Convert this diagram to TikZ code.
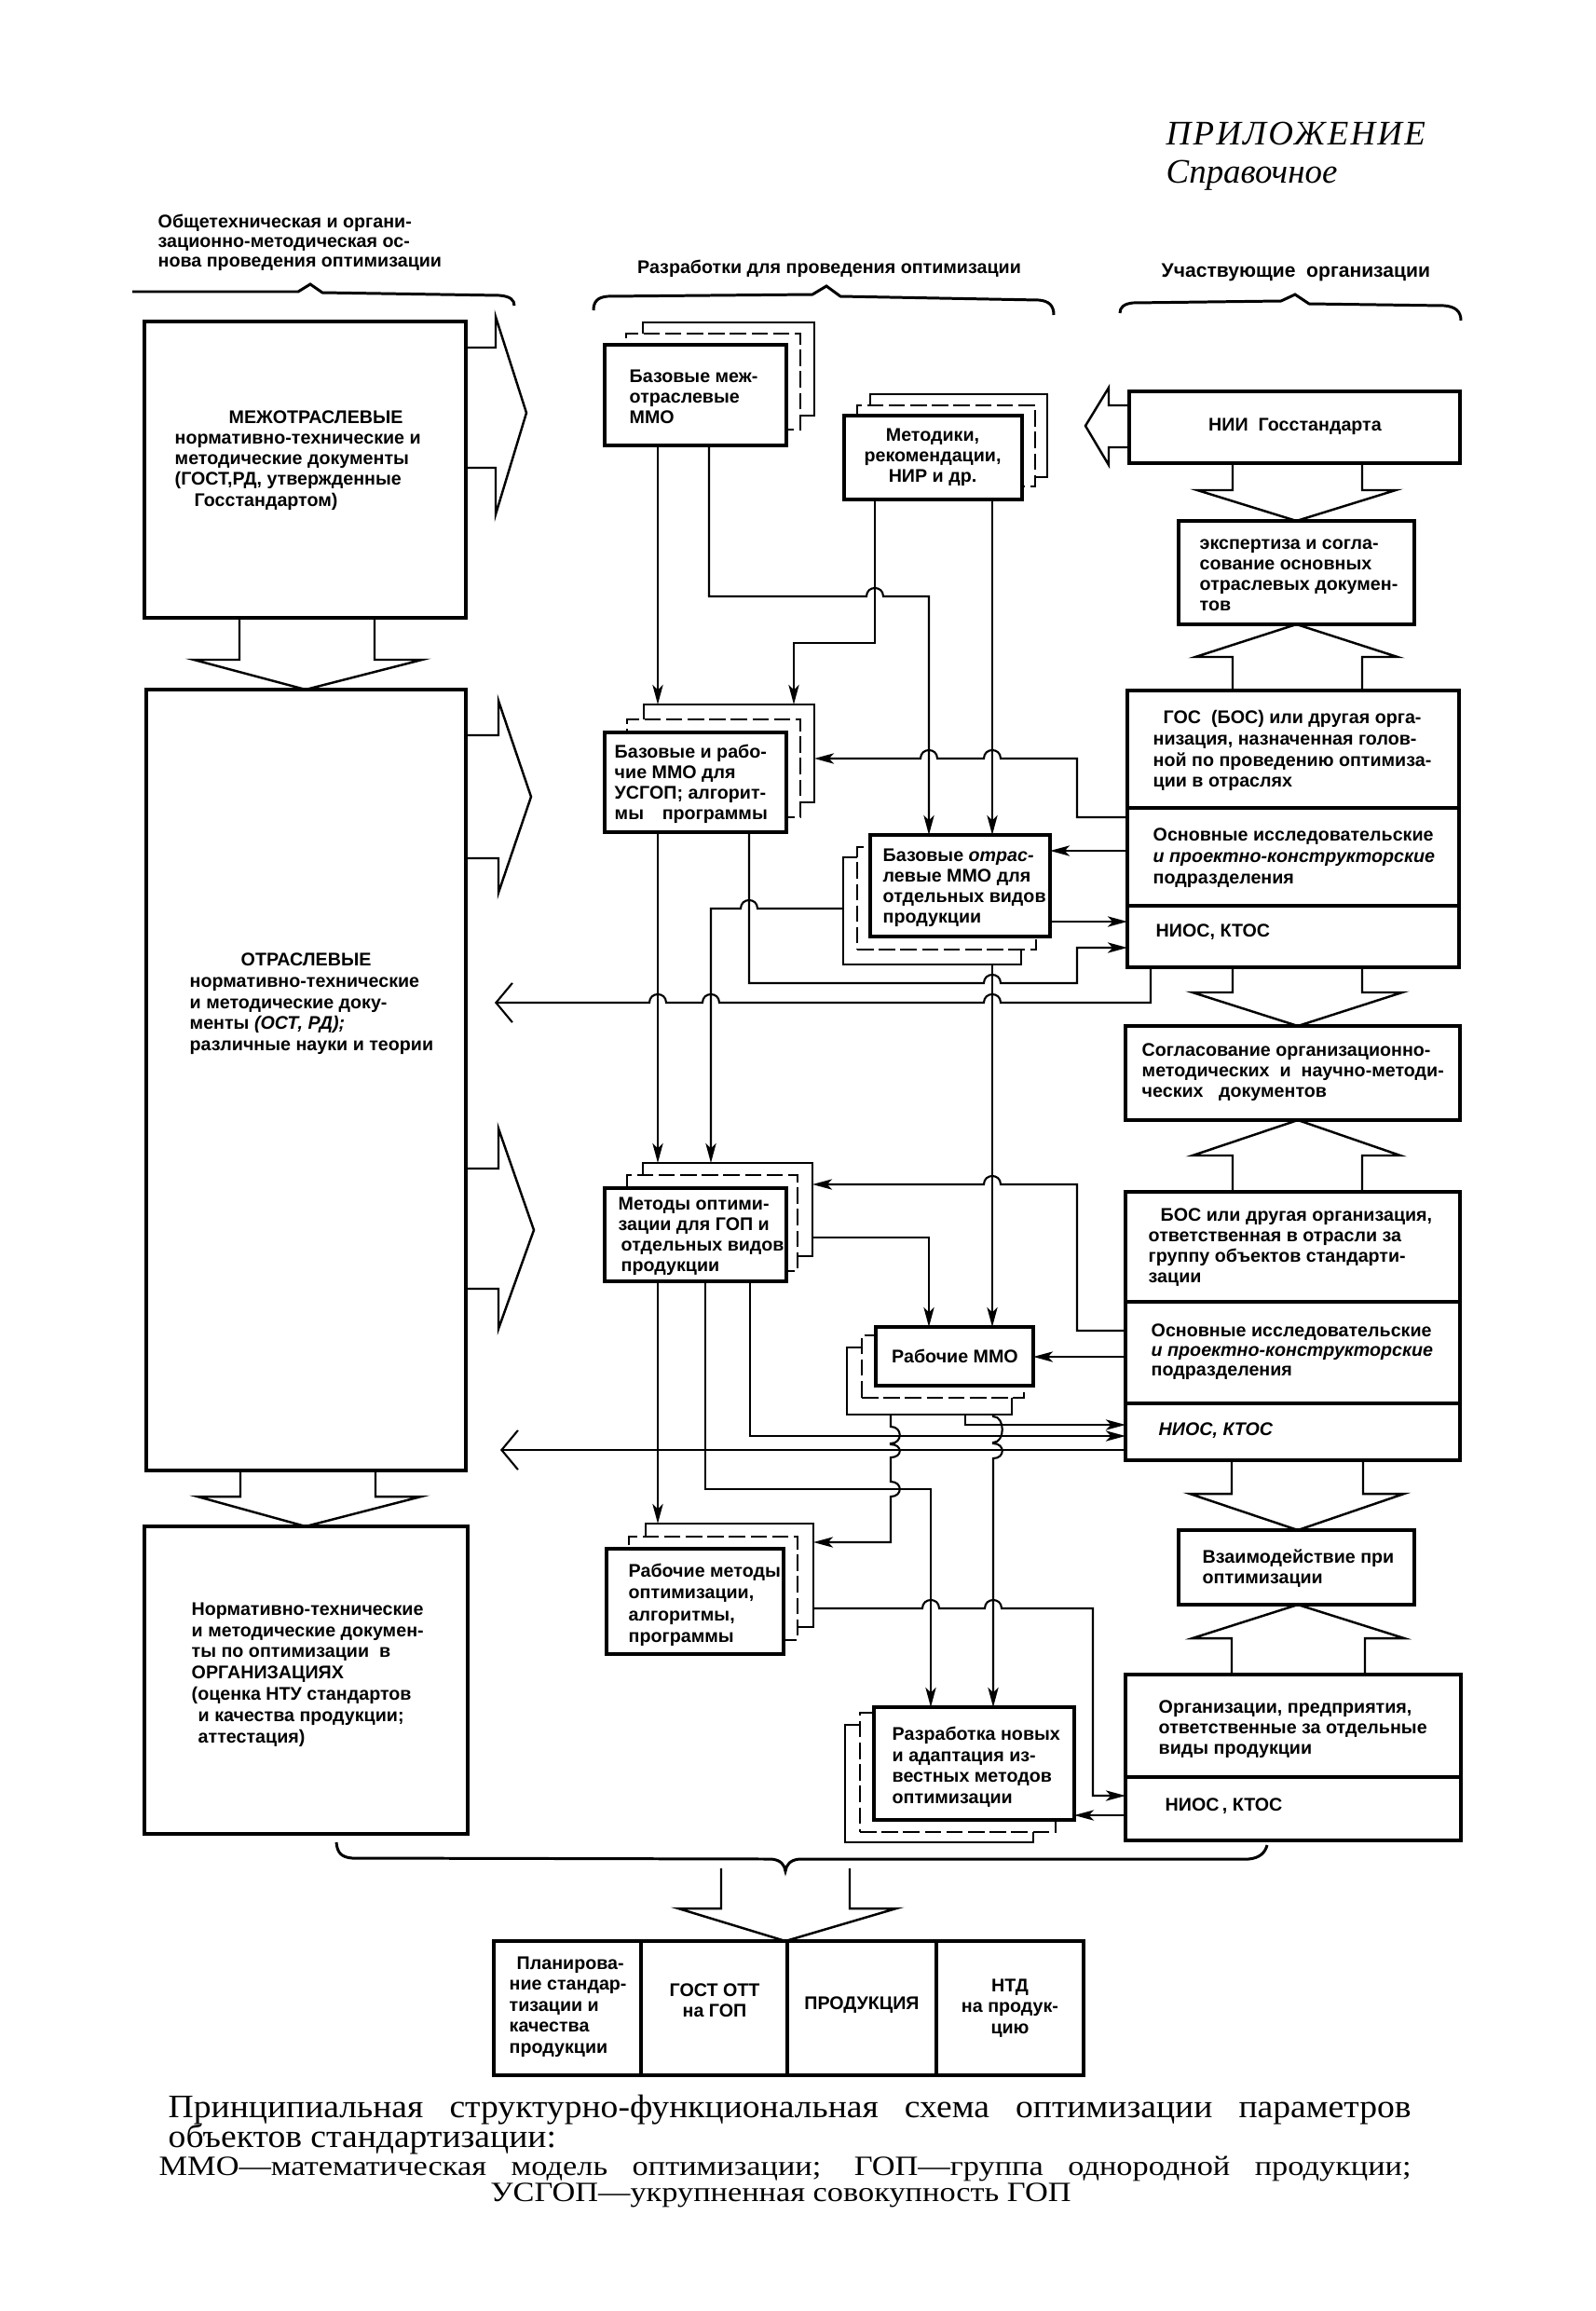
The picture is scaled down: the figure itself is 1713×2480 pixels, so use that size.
\documentclass[tikz,border=0pt]{standalone}
\usepackage{fontspec}
\setmainfont{Liberation Serif}
\newfontfamily\sansf{Liberation Sans}
\newfontfamily\capf{Liberation Serif}[FakeStretch=1.15]
\newfontfamily\capg{Liberation Serif}[FakeStretch=1.07]
\newfontfamily\prilf{Liberation Serif}[LetterSpace=6]
\usetikzlibrary{arrows.meta,calc}
\newcommand\boxfont{\sansf\bfseries\fontsize{5.6}{6.3}\selectfont}
\newcommand\BX[6]{%
 \pgfmathsetmacro\bxw{(#5-#3)/10}%
 \pgfmathsetmacro\bxh{(#6-#4)/10}%
 \node[#2, inner sep=0pt, outer sep=0pt, minimum width=\bxw mm, minimum height=\bxh mm, anchor=north west] (#1) at (#3,#4) {};}
\newcommand\HopR[2]{-- ({#1-9},#2) .. controls ({#1-9},{#2-12}) and ({#1+9},{#2-12}) .. ({#1+9},#2)}
\newcommand\HopL[2]{-- ({#1+9},#2) .. controls ({#1+9},{#2-12}) and ({#1-9},{#2-12}) .. ({#1-9},#2)}
\newcommand\SqD[3]{-- (#1,#2) .. controls ({#1+13},#2) and ({#1+13},#3) .. (#1,#3)}
\tikzset{
 mainb/.style={draw, line width=1.2pt, fill=white},
 copyb/.style={draw, line width=0.6pt, fill=white},
 dashb/.style={copyb, dash pattern=on 5pt off 1.6pt},
 bigb/.style={draw, line width=1.1pt},
 rb/.style={draw, line width=1pt},
 tb/.style={draw, line width=1.1pt},
 rdiv/.style={line width=1pt},
 blk/.style={line width=0.7pt, line join=miter},
 brc/.style={line width=0.85pt},
 conn/.style={line width=0.6pt},
 arr/.style={conn, -{Stealth[length=6pt,width=3.2pt,inset=1.5pt]}},
 barb/.style={conn, -{Straight Barb[length=5pt,width=12pt]}},
 txt/.style={font=\boxfont, align=left, inner sep=0pt, anchor=north west},
 txtc/.style={font=\boxfont, align=center, inner sep=0pt, anchor=center},
 txtw/.style={font=\boxfont, inner sep=0pt, anchor=west},
 capt/.style={inner sep=0pt, anchor=base west},
}
\begin{document}
\begin{tikzpicture}[x=0.1mm, y=-0.1mm]
\path[fill=white, use as bounding box] (0,0) rectangle (1713,2480);

% ---------- headers ----------
\node[anchor=west, inner sep=0pt, font=\prilf\itshape\fontsize{10.5}{12}\selectfont] (pril) at (1251,143) {ПРИЛОЖЕНИЕ};
\node[anchor=west, inner sep=0pt, font=\itshape\fontsize{10.5}{12}\selectfont] (sprav) at (1251,188) {Справочное};
\node[txt, font={\boxfont\fontsize{5.6}{6}\selectfont}] (h1) at (169,229) {Общетехническая и органи-\\зационно-методическая ос-\\нова проведения оптимизации};
\node[txtc] (h2) at (890,288) {Разработки для проведения оптимизации};
\node[txtw, font={\boxfont\fontsize{6}{7}\selectfont}] (h3) at (1246,292) {Участвующие\ \ организации};

% braces
\draw[brc] (142,313) -- (320,313) -- (333,305) -- (346,314) -- (536,317) .. controls (548,318) and (552,322) .. (552,328);
\draw[brc] (637,333) .. controls (637,324) and (641,319) .. (652,318) -- (872,316) -- (887,307) -- (902,318) -- (1115,322) .. controls (1126,323) and (1131,328) .. (1131,338);
\draw[brc] (1202,336) .. controls (1202,330) and (1206,326) .. (1216,325) -- (1375,323) -- (1390,316) -- (1405,326) -- (1550,328) .. controls (1562,329) and (1568,334) .. (1568,344);

% ---------- left column ----------
\BX{A}{bigb}{155}{345}{500}{663}
\node[txt] (tA) at (187,440) {\hspace*{5.8mm}МЕЖОТРАСЛЕВЫЕ\\нормативно-технические и\\методические документы\\(ГОСТ,РД, утвержденные\\\hspace*{2.1mm}Госстандартом)};
\BX{B}{bigb}{157}{740}{500}{1578}
\node[txt, font={\boxfont\fontsize{5.6}{6.5}\selectfont}] (tB) at (203,1022) {\hspace*{5.5mm}ОТРАСЛЕВЫЕ\\нормативно-технические\\и методические доку-\\менты \textit{(ОСТ, РД);}\\различные науки и теории};
\BX{C}{bigb}{155}{1638}{502}{1968}
\node[txt, font={\boxfont\fontsize{5.6}{6.5}\selectfont}] (tC) at (205,1719) {Нормативно-технические\\и методические докумен-\\ты по оптимизации\ \ в\\ОРГАНИЗАЦИЯХ\\(оценка НТУ стандартов\\\hspace*{0.7mm}и качества продукции;\\\hspace*{0.7mm}аттестация)};

\draw[blk] (A.east |- 0,373) -- (532,373) -- (532,340) -- (565,443) -- (532,552) -- (532,502) -- (A.east |- 0,502);
\draw[blk] (A.south -| 257,0) -- (257,708) -- (208,708) -- (B.north -| 328,0) -- (453,708) -- (402,708) -- (A.south -| 402,0);
\draw[blk] (B.east |- 0,789) -- (535,789) -- (535,752) -- (570,855) -- (535,958) -- (535,921) -- (B.east |- 0,921);
\draw[blk] (B.east |- 0,1254) -- (535,1254) -- (535,1211) -- (573,1320) -- (535,1426) -- (535,1383) -- (B.east |- 0,1383);
\draw[blk] (B.south -| 258,0) -- (258,1606) -- (212,1606) -- (C.north -| 328,0) -- (452,1606) -- (403,1606) -- (B.south -| 403,0);

% ---------- middle column: stacked boxes ----------
\BX{M1c2}{copyb}{690}{346}{874}{446}
\BX{M1c1}{dashb}{672}{358}{859}{461}
\BX{M1}{mainb}{649}{370}{844}{478}
\node[txt] (tM1) at (675,396) {Базовые меж-\\отраслевые\\ММО};

\BX{M3c2}{copyb}{934}{423}{1124}{512}
\BX{M3c1}{dashb}{920}{435}{1111}{522}
\BX{M3}{mainb}{906}{446}{1097}{536}
\node[txtc] (tM3) at (1001,491) {Методики,\\рекомендации,\\НИР и др.};

\BX{M2c2}{copyb}{691}{756}{874}{861}
\BX{M2c1}{dashb}{673}{772}{859}{877}
\BX{M2}{mainb}{649}{786}{844}{893}
\node[txt] (tM2) at (659,798) {Базовые и рабо-\\чие ММО для\\УСГОП; алгорит-\\мы\quad программы};

\BX{M4c2}{copyb}{905}{920}{1096}{1035}
\BX{M4c1}{dashb}{920}{909}{1112}{1019}
\BX{M4}{mainb}{934}{896}{1127}{1005}
\node[txt] (tM4) at (947,910) {Базовые \textit{отрас-}\\левые ММО для\\отдельных видов\\продукции};

\BX{M5c2}{copyb}{690}{1248}{872}{1348}
\BX{M5c1}{dashb}{673}{1261}{856}{1364}
\BX{M5}{mainb}{649}{1275}{844}{1375}
\node[txt] (tM5) at (663,1284) {Методы оптими-\\зации для ГОП и\\\hspace*{0.3mm}отдельных видов\\\hspace*{0.3mm}продукции};

\BX{M6c2}{copyb}{909}{1446}{1086}{1518}
\BX{M6c1}{dashb}{925}{1433}{1099}{1500}
\BX{M6}{mainb}{940}{1424}{1109}{1487}
\node[txtc] (tM6) at (1025,1455) {Рабочие ММО};

\BX{M7c2}{copyb}{693}{1635}{873}{1746}
\BX{M7c1}{dashb}{675}{1649}{856}{1760}
\BX{M7}{mainb}{651}{1662}{841}{1775}
\node[txt, font={\boxfont\fontsize{5.6}{6.7}\selectfont}] (tM7) at (674,1677) {Рабочие методы\\оптимизации,\\алгоритмы,\\программы};

\BX{M8c2}{copyb}{907}{1851}{1109}{1977}
\BX{M8c1}{dashb}{923}{1838}{1133}{1966}
\BX{M8}{mainb}{938}{1832}{1153}{1953}
\node[txt, font={\boxfont\fontsize{5.6}{6.5}\selectfont}] (tM8) at (957,1852) {Разработка новых\\и адаптация из-\\вестных методов\\оптимизации};

% ---------- right column ----------
\BX{NII}{rb}{1212}{420}{1567}{497}
\node[txtc] (tNII) at (1390,458) {НИИ\ \ Госстандарта};
\BX{E}{rb}{1265}{559}{1518}{670}
\node[txt] (tE) at (1287,578) {экспертиза и согла-\\сование основных\\отраслевых докумен-\\тов};
\BX{R1}{rb}{1210}{741}{1566}{1038}
\draw[rdiv] (R1.west |- 0,867) -- (R1.east |- 0,867);
\draw[rdiv] (R1.west |- 0,972) -- (R1.east |- 0,972);
\node[txt, font={\boxfont\fontsize{5.6}{6.45}\selectfont}] (tR1a) at (1237,762) {\hspace*{1.1mm}ГОС\ \ (БОС) или другая орга-\\низация, назначенная голов-\\ной по проведению оптимиза-\\ции в отраслях};
\node[txt, font={\boxfont\fontsize{5.6}{6.5}\selectfont}] (tR1b) at (1237,888) {Основные исследовательские\\\textit{и проектно-конструкторские}\\подразделения};
\node[txtw] (tR1c) at (1240,1000) {НИОС, КТОС};

\BX{S}{rb}{1208}{1101}{1567}{1202}
\node[txt] (tS) at (1225,1119) {Согласование организационно-\\методических\ \ и\ \ научно-методи-\\ческих\ \ \ документов};
\BX{R2}{rb}{1208}{1279}{1567}{1567}
\draw[rdiv] (R2.west |- 0,1397) -- (R2.east |- 0,1397);
\draw[rdiv] (R2.west |- 0,1506) -- (R2.east |- 0,1506);
\node[txt] (tR2a) at (1232,1296) {\hspace*{1.3mm}БОС или другая организация,\\ответственная в отрасли за\\группу объектов стандарти-\\зации};
\node[txt, font={\boxfont\fontsize{5.6}{6}\selectfont}] (tR2b) at (1235,1420) {Основные исследовательские\\\textit{и проектно-конструкторские}\\подразделения};
\node[txtw] (tR2c) at (1243,1535) {\textit{НИОС, КТОС}};

\BX{V}{rb}{1265}{1642}{1518}{1722}
\node[txt] (tV) at (1290,1662) {Взаимодействие при\\оптимизации};
\BX{R3}{rb}{1208}{1797}{1568}{1975}
\draw[rdiv] (R3.west |- 0,1907) -- (R3.east |- 0,1907);
\node[txt] (tR3a) at (1243,1824) {Организации, предприятия,\\ответственные за отдельные\\виды продукции};
\node[txtw] (tR3b) at (1250,1938) {НИОС\,, КТОС};

% block arrows right column
\draw[blk] (NII.west |- 0,435) -- (1190,435) -- (1190,416) -- (1165,457) -- (1190,499) -- (1190,480) -- (NII.west |- 0,480);
\draw[blk] (NII.south -| 1323,0) -- (1323,526) -- (1285,526) -- (E.north) -- (1498,526) -- (1462,526) -- (NII.south -| 1462,0);
\draw[blk] (R1.north -| 1323,0) -- (1323,705) -- (1283,705) -- (E.south) -- (1500,705) -- (1462,705) -- (R1.north -| 1462,0);
\draw[blk] (R1.south -| 1323,0) -- (1323,1065) -- (1280,1065) -- (S.north -| 1393,0) -- (1505,1065) -- (1462,1065) -- (R1.south -| 1462,0);
\draw[blk] (R2.north -| 1323,0) -- (1323,1240) -- (1280,1240) -- (S.south -| 1393,0) -- (1503,1240) -- (1462,1240) -- (R2.north -| 1462,0);
\draw[blk] (R2.south -| 1322,0) -- (1322,1603) -- (1277,1603) -- (V.north -| 1393,0) -- (1507,1603) -- (1463,1603) -- (R2.south -| 1463,0);
\draw[blk] (R3.north -| 1322,0) -- (1322,1758) -- (1280,1758) -- (V.south -| 1393,0) -- (1507,1758) -- (1465,1758) -- (R3.north -| 1465,0);

% ---------- connectors ----------
\coordinate (t1) at (531,1076);
\coordinate (t2) at (537,1556);
\draw[arr] (M1.south -| 706,0) -- (M2c2.north -| 706,0);
\draw[arr] (M1.south -| 761,0) -- (761,640) \HopR{939}{640} -- (997,640) -- (M4.north -| 997,0);
\draw[arr] (M3.south -| 939,0) -- (939,690) -- (852,690) -- (M2c2.north -| 852,0);
\draw[arr] (M3.south -| 1065,0) -- (M4.north -| 1065,0);
\draw[arr] (R1.west |- 0,877) -- (1156,877) -- (1156,814) \HopL{1065}{814} \HopL{997}{814} -- (M2c2.east |- 0,814);
\draw[arr] (R1.west |- 0,913) -- (M4.east |- 0,913);
\draw[arr] (M4.east |- 0,989) -- (R1.west |- 0,989);
\draw[arr] (M2.south -| 804,0) -- (804,1055) \HopR{1065}{1055} -- (1156,1055) -- (1156,1017) -- (R1.west |- 0,1017);
\draw[arr] (M4c2.west |- 0,975) \HopL{804}{975} -- (763,975) -- (M5c2.north -| 763,0);
\draw[arr] (M2.south -| 706,0) -- (M5c2.north -| 706,0);
\draw[arr] (M4c2.south -| 1065,0) -- (M6.north -| 1065,0);
\draw[barb] (R1.south -| 1235,0) -- (1235,1076) \HopL{1065}{1076} \HopL{763}{1076} \HopL{706}{1076} -- (t1);
\draw[arr] (R2.west |- 0,1428) -- (1156,1428) -- (1156,1271) \HopL{1065}{1271} -- (M5c2.east |- 0,1271);
\draw[arr] (M5c2.east |- 0,1328) -- (997,1328) -- (M6.north -| 997,0);
\draw[arr] (R2.west |- 0,1456) -- (M6.east |- 0,1456);
\draw[arr] (M6c2.south -| 1036,0) -- (1036,1529) -- (R2.west |- 0,1529);
\draw[arr] (M5.south -| 805,0) -- (805,1541) -- (R2.west |- 0,1541);
\draw[barb] (R2.west |- 0,1556) -- (t2);
\draw[arr] (M5.south -| 757,0) -- (757,1598) -- (999,1598) -- (M8.north -| 999,0);
\draw[arr] (M5.south -| 706,0) -- (M7c2.north -| 706,0);
\draw[arr] (M6c2.south -| 956,0) \SqD{956}{1531}{1549} \SqD{956}{1550}{1564} \SqD{956}{1590}{1606} -- (956,1655) -- (M7c2.east |- 0,1655);
\draw[arr] (M6c2.south -| 1066,0) \SqD{1066}{1520}{1548} \SqD{1066}{1549}{1565} -- (M8.north -| 1066,0);
\draw[arr] (M7c2.east |- 0,1726) \HopR{999}{1726} \HopR{1066}{1726} -- (1173,1726) -- (1173,1927) -- (R3.west |- 0,1927);
\draw[arr] (R3.west |- 0,1948) -- (M8.east |- 0,1948);

% ---------- bottom ----------
\draw[brc] (361,1977) .. controls (362,1988) and (366,1993) .. (378,1994) -- (828,1995) .. controls (838,1996) and (842,2001) .. (843,2008) .. controls (844,2001) and (848,1996) .. (858,1995) -- (1340,1995) .. controls (1352,1994) and (1358,1988) .. (1360,1980);
\BX{P1}{tb}{530}{2083}{688}{2227}
\BX{P2}{tb}{688}{2083}{845}{2227}
\BX{P3}{tb}{845}{2083}{1005}{2227}
\BX{P4}{tb}{1005}{2083}{1163}{2227}
\draw[blk] (774,2005) -- (774,2048) -- (728,2048) -- (P1.north -| 843,0) -- (962,2048) -- (912,2048) -- (912,2005);
\node[txt, font={\boxfont\fontsize{5.6}{6.4}\selectfont}] (tP1) at (546,2099) {\hspace*{0.8mm}Планирова-\\ние стандар-\\тизации и\\качества\\продукции};
\node[txtc] (tP2) at (767,2147) {ГОСТ ОТТ\\на ГОП};
\node[txtc] (tP3) at (925,2152) {ПРОДУКЦИЯ};
\node[txtc, font={\boxfont\fontsize{5.6}{6.4}\selectfont}] (tP4) at (1084,2155) {НТД\\на продук-\\цию};

% caption
\node[capt, font=\capg\fontsize{10}{11}\selectfont] (cap1) at (180,2272) {\makebox[133.4mm][s]{Принципиальная структурно-функциональная схема оптимизации параметров}};
\node[capt, font=\capg\fontsize{10}{11}\selectfont] (cap2) at (180,2304) {объектов стандартизации:};
\node[capt, font=\capf\fontsize{8.5}{10}\selectfont] (cap3) at (170,2334) {\makebox[134.4mm][s]{ММО—математическая модель оптимизации; ГОП—группа однородной продукции;}};
\node[inner sep=0pt, anchor=base, font=\capf\fontsize{8.5}{10}\selectfont] (cap4) at (838,2362) {УСГОП—укрупненная совокупность ГОП};
\end{tikzpicture}
\end{document}
